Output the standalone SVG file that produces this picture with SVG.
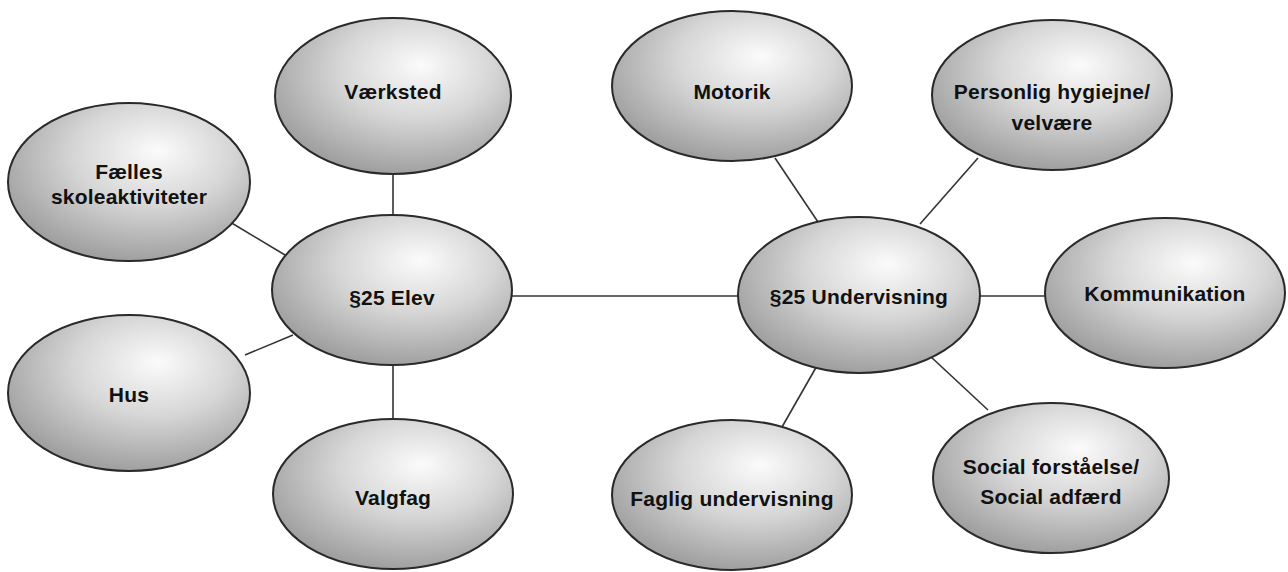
<svg xmlns="http://www.w3.org/2000/svg" width="1288" height="572" viewBox="0 0 1288 572">
<defs>
<radialGradient id="g" cx="0.58" cy="0.35" r="0.65" fx="0.62" fy="0.3">
<stop offset="0" stop-color="#fbfbfb"/>
<stop offset="0.5" stop-color="#d6d6d6"/>
<stop offset="1" stop-color="#a0a0a0"/>
</radialGradient>
</defs>
<style>
.n{fill:url(#g);stroke:#2a2a2a;stroke-width:2}
.t{font-family:"Liberation Sans",Arial,sans-serif;font-weight:bold;font-size:21px;fill:#111;text-anchor:middle;letter-spacing:0.2px}
.c{stroke:#333;stroke-width:1.6;fill:none}
</style>
<rect width="1288" height="572" fill="#fff"/>
<g id="connectors">
<line class="c" x1="512" y1="296" x2="738" y2="296"/>
<line class="c" x1="393" y1="175" x2="393" y2="215"/>
<line class="c" x1="230" y1="222" x2="285" y2="255"/>
<line class="c" x1="245" y1="355" x2="293" y2="335"/>
<line class="c" x1="393" y1="365" x2="393" y2="420"/>
<line class="c" x1="775" y1="158" x2="818" y2="222"/>
<line class="c" x1="978" y1="158" x2="920" y2="224"/>
<line class="c" x1="980" y1="296" x2="1045" y2="296"/>
<line class="c" x1="782" y1="427" x2="818" y2="364"/>
<line class="c" x1="930" y1="356" x2="988" y2="410"/>
</g>
<g id="vaerksted"><ellipse class="n" cx="393" cy="96" rx="118" ry="78"/><text class="t" x="393" y="99">Værksted</text></g>
<g id="faelles"><ellipse class="n" cx="129" cy="182" rx="121" ry="79"/><text class="t" x="129" y="179">Fælles</text><text class="t" x="129" y="204">skoleaktiviteter</text></g>
<g id="elev"><ellipse class="n" cx="392" cy="290" rx="120" ry="75"/><text class="t" x="392" y="305">§25 Elev</text></g>
<g id="hus"><ellipse class="n" cx="129" cy="393" rx="121" ry="78"/><text class="t" x="129" y="402">Hus</text></g>
<g id="valgfag"><ellipse class="n" cx="393" cy="494" rx="120" ry="75"/><text class="t" x="393" y="505">Valgfag</text></g>
<g id="motorik"><ellipse class="n" cx="732" cy="86" rx="120" ry="75"/><text class="t" x="732" y="99">Motorik</text></g>
<g id="personlig"><ellipse class="n" cx="1052" cy="95" rx="120" ry="75"/><text class="t" x="1052" y="99">Personlig hygiejne/</text><text class="t" x="1052" y="130">velvære</text></g>
<g id="undervisning"><ellipse class="n" cx="859" cy="295" rx="121" ry="78"/><text class="t" x="859" y="304">§25 Undervisning</text></g>
<g id="kommunikation"><ellipse class="n" cx="1165" cy="293" rx="120" ry="75"/><text class="t" x="1165" y="301">Kommunikation</text></g>
<g id="faglig"><ellipse class="n" cx="732" cy="495" rx="120" ry="75"/><text class="t" x="732" y="506">Faglig undervisning</text></g>
<g id="social"><ellipse class="n" cx="1051" cy="478" rx="118" ry="75"/><text class="t" x="1051" y="474">Social forståelse/</text><text class="t" x="1051" y="504">Social adfærd</text></g>
</svg>
